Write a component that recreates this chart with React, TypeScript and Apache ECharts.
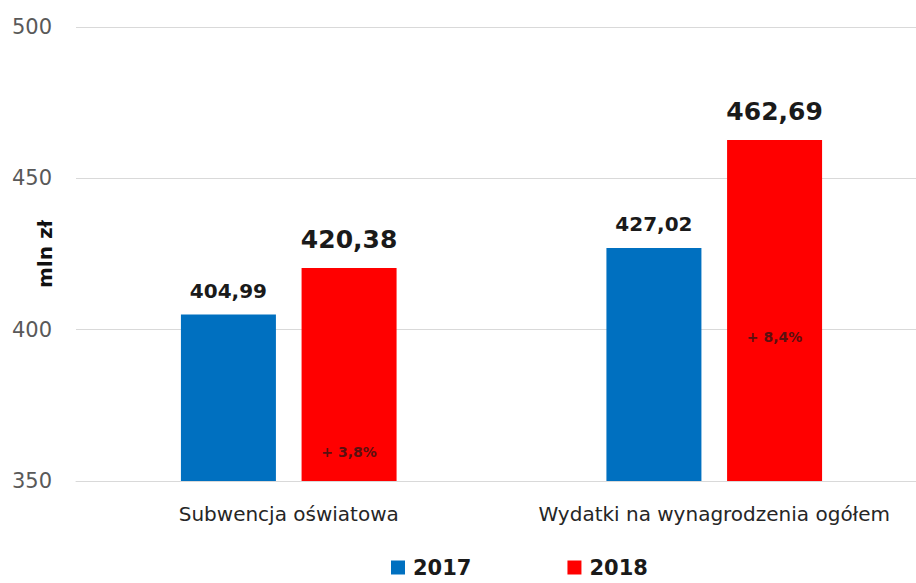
import React, { useEffect, useRef } from "react";
import * as echarts from "echarts";

const categories = ["Subwencja oświatowa", "Wydatki na wynagrodzenia ogółem"];
const values2017 = [404.99, 427.02];
const values2018 = [420.38, 462.69];
const growthLabels = ["+ 3,8%", "+ 8,4%"];
const yTicks = { min: 350, max: 500, interval: 50 };
const seriesNames = ["2017", "2018"];

const fmt = (v: number) => v.toFixed(2).replace(".", ",");

export default function App() {
  const ref = useRef<HTMLDivElement>(null);
  useEffect(() => {
    document.body.style.margin = "0";
    const chart = echarts.init(ref.current!, null, { renderer: "svg" });
    const font = "DejaVu Sans";
    const innerDistances = [22, 137];
    chart.setOption({
      animation: false,
      backgroundColor: "#ffffff",
      grid: { left: 76, right: -11, top: 27, bottom: 102, containLabel: false, outerBoundsMode: "none" },
      legend: {
        data: seriesNames,
        top: 556,
        left: 390,
        itemWidth: 14,
        itemHeight: 14,
        itemGap: 96,
        icon: "rect",
        padding: 1,
        textStyle: { fontFamily: font, fontWeight: "bold", fontSize: 21, color: "#1a1a1a", padding: [0, 0, 0, 3] },
      },
      xAxis: [
        {
          type: "category",
          data: categories,
          axisTick: { show: false },
          axisLine: { lineStyle: { color: "#d9d9d9", width: 1 } },
          axisLabel: { fontFamily: font, fontSize: 20, color: "#262626", margin: 23, interval: 0, hideOverlap: false },
        },
        {
          type: "category",
          data: categories,
          show: false,
        },
      ],
      yAxis: {
        type: "value",
        min: yTicks.min,
        max: yTicks.max,
        interval: yTicks.interval,
        name: "mln zł",
        nameLocation: "middle",
        nameGap: 21,
        nameMoveOverlap: false,
        nameTextStyle: { fontFamily: font, fontWeight: "bold", fontSize: 20, color: "#111" },
        axisLine: { show: false },
        axisTick: { show: false },
        axisLabel: { fontFamily: font, fontSize: 21, color: "#595959", margin: 24 },
        splitLine: { lineStyle: { color: "#d9d9d9", width: 1 } },
      },
      series: [
        {
          name: seriesNames[0],
          type: "bar",
          data: values2017,
          barWidth: 95,
          barGap: "27%",
          itemStyle: { color: "#0070c0" },
          label: {
            show: true,
            position: "top",
            distance: 14,
            formatter: (p: any) => fmt(p.value),
            fontFamily: font,
            fontWeight: "bold",
            fontSize: 20,
            color: "#1a1a1a",
          },
        },
        {
          name: seriesNames[1],
          type: "bar",
          data: values2018,
          barWidth: 95,
          barGap: "27%",
          itemStyle: { color: "#ff0000" },
          label: {
            show: true,
            position: "top",
            distance: 16,
            formatter: (p: any) => fmt(p.value),
            fontFamily: font,
            fontWeight: "bold",
            fontSize: 25,
            color: "#1a1a1a",
          },
        },
        {
          name: "_dummy",
          type: "bar",
          xAxisIndex: 1,
          data: values2017.map(() => "-"),
          barWidth: 95,
          barGap: "27%",
          silent: true,
        },
        {
          name: "_growth",
          type: "bar",
          xAxisIndex: 1,
          barWidth: 95,
          barGap: "27%",
          silent: true,
          itemStyle: { color: "rgba(0,0,0,0)" },
          data: values2018.map((v, i) => ({
            value: v,
            label: {
              show: true,
              position: "insideBottom",
              distance: innerDistances[i],
              formatter: growthLabels[i],
              fontFamily: font,
              fontSize: 14,
              fontWeight: "bold",
              color: "#5a1010",
            },
          })),
        },
      ],
    });
    return () => chart.dispose();
  }, []);
  return <div ref={ref} style={{ width: 916, height: 583 }} />;
}
